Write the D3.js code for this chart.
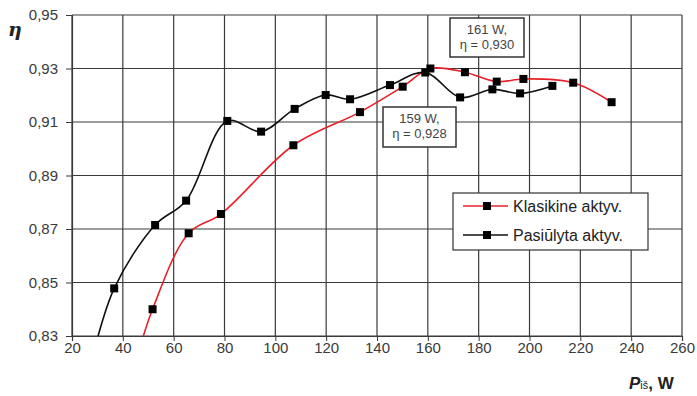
<!DOCTYPE html>
<html>
<head>
<meta charset="utf-8">
<script src="https://cdn.jsdelivr.net/npm/d3@7"></script>
<style>
  body { margin: 0; background: #fff; }
  text { font-family: "Liberation Sans", Arial, sans-serif; }
</style>
</head>
<body>
<div id="chart-area"></div>
<script>
// data
var xTicks = [20, 40, 60, 80, 100, 120, 140, 160, 180, 200, 220, 240, 260];
var yTicks = [0.83, 0.85, 0.87, 0.89, 0.91, 0.93, 0.95];

var klasX = [45, 51.7, 65.9, 78.6, 107.1, 133.3, 150.1, 161, 174.6, 187.1, 197.6, 217.2, 232.3];
var klasY = [0.82, 0.840, 0.8684, 0.8756, 0.9013, 0.9137, 0.9232, 0.930, 0.9286, 0.9251, 0.9261, 0.9247, 0.9174];

var pasX = [27.5, 36.6, 52.7, 64.9, 81.1, 94.4, 107.6, 119.8, 129.4, 145.1, 159, 172.7, 185.4, 196.3, 209];
var pasY = [0.82, 0.8478, 0.8715, 0.8806, 0.9104, 0.9064, 0.9149, 0.9201, 0.9185, 0.9238, 0.9285, 0.9192, 0.9222, 0.9207, 0.9235];

var seriesNames = ["Klasikine aktyv.", "Pasiūlyta aktyv."];
var seriesColors = ["#e8202a", "#111111"];

var notes = [
  {lines: ["161 W,", "η = 0,930"], x: 450, y: 18, w: 74, h: 39},
  {lines: ["159 W,", "η = 0,928"], x: 383, y: 107, w: 73, h: 40}
];

var fmt = function(d) { return d3.format(".2f")(d).replace(".", ","); };

var W = 697, H = 396;
var m = {left: 72, right: 15, top: 15, bottom: 60};

var svg = d3.select("#chart-area").append("svg")
  .attr("width", W)
  .attr("height", H);

var x = d3.scaleLinear().domain([20, 260]).range([m.left, W - m.right]);
var y = d3.scaleLinear().domain([0.83, 0.95]).range([H - m.bottom, m.top]);

svg.append("clipPath").attr("id", "plot")
  .append("rect")
  .attr("x", m.left).attr("y", m.top - 1)
  .attr("width", W - m.left - m.right)
  .attr("height", H - m.top - m.bottom + 1);

// grid
svg.append("g").selectAll("line").data(xTicks).enter().append("line")
  .attr("x1", d => x(d)).attr("x2", d => x(d))
  .attr("y1", y(0.95)).attr("y2", y(0.83))
  .attr("stroke", "#3a3a3a").attr("stroke-width", 1.2);
svg.append("g").selectAll("line").data(yTicks).enter().append("line")
  .attr("x1", x(20)).attr("x2", x(260))
  .attr("y1", d => y(d)).attr("y2", d => y(d))
  .attr("stroke", "#3a3a3a").attr("stroke-width", 1.2);

// axes
var xAxis = svg.append("g")
  .attr("transform", "translate(0," + y(0.83) + ")")
  .call(d3.axisBottom(x).tickValues(xTicks).tickSize(5).tickPadding(1));
var yAxis = svg.append("g")
  .attr("transform", "translate(" + x(20) + ",0)")
  .call(d3.axisLeft(y).tickValues(yTicks).tickFormat(fmt).tickSize(6).tickPadding(8));
[xAxis, yAxis].forEach(function(a) {
  a.select(".domain").attr("stroke", "#3a3a3a").attr("stroke-width", 1.2);
  a.selectAll(".tick line").attr("stroke", "#3a3a3a");
  a.selectAll(".tick text")
    .attr("fill", "#3a3a3a")
    .style("font-size", "15px")
    .style("font-family", "'Liberation Sans', Arial, sans-serif");
});

// curves
var line = d3.line()
  .x(d => x(d[0]))
  .y(d => y(d[1]))
  .curve(d3.curveCatmullRom.alpha(0.5));

var series = [d3.zip(klasX, klasY), d3.zip(pasX, pasY)];

var plot = svg.append("g").attr("clip-path", "url(#plot)");
series.forEach(function(pts, i) {
  plot.append("path")
    .datum(pts)
    .attr("d", line)
    .attr("fill", "none")
    .attr("stroke", seriesColors[i])
    .attr("stroke-width", 1.6);
});
series.forEach(function(pts) {
  plot.selectAll(null).data(pts).enter().append("rect")
    .attr("x", d => x(d[0]) - 4)
    .attr("y", d => y(d[1]) - 4)
    .attr("width", 8).attr("height", 8)
    .attr("fill", "#000");
});

// callouts
notes.forEach(function(n) {
  var g = svg.append("g");
  g.append("rect")
    .attr("x", n.x).attr("y", n.y).attr("width", n.w).attr("height", n.h)
    .attr("fill", "#fff").attr("stroke", "#333").attr("stroke-width", 1.5);
  n.lines.forEach(function(t, k) {
    g.append("text")
      .attr("x", n.x + n.w / 2).attr("y", n.y + 16 + k * 15)
      .attr("text-anchor", "middle")
      .attr("fill", "#444")
      .style("font-size", "13px")
      .text(t);
  });
});

// legend
var leg = svg.append("g");
leg.append("rect")
  .attr("x", 453).attr("y", 193).attr("width", 195).attr("height", 57)
  .attr("fill", "#fff").attr("stroke", "#333").attr("stroke-width", 1.2);
seriesNames.forEach(function(name, i) {
  var ly = 206 + i * 29;
  leg.append("line")
    .attr("x1", 463).attr("x2", 508).attr("y1", ly).attr("y2", ly)
    .attr("stroke", seriesColors[i]).attr("stroke-width", 1.6);
  leg.append("rect")
    .attr("x", 483).attr("y", ly - 4).attr("width", 8).attr("height", 8)
    .attr("fill", "#000");
  leg.append("text")
    .attr("x", 513).attr("y", ly + 5.5)
    .attr("fill", "#222")
    .style("font-size", "16px")
    .text(name);
});

// axis titles
svg.append("text")
  .attr("x", 8).attr("y", 36)
  .style("font-family", "'DejaVu Serif', 'Liberation Serif', serif")
  .style("font-size", "19px").style("font-weight", "bold").style("font-style", "italic")
  .attr("fill", "#222")
  .text("η");

var xt = svg.append("text")
  .attr("x", 629).attr("y", 389)
  .attr("fill", "#222");
xt.append("tspan").style("font-size", "17px").style("font-weight", "bold").style("font-style", "italic").text("P");
xt.append("tspan").style("font-size", "11px").text("iš");
xt.append("tspan").style("font-size", "17px").style("font-weight", "bold").text(", W");
</script>
</body>
</html>
